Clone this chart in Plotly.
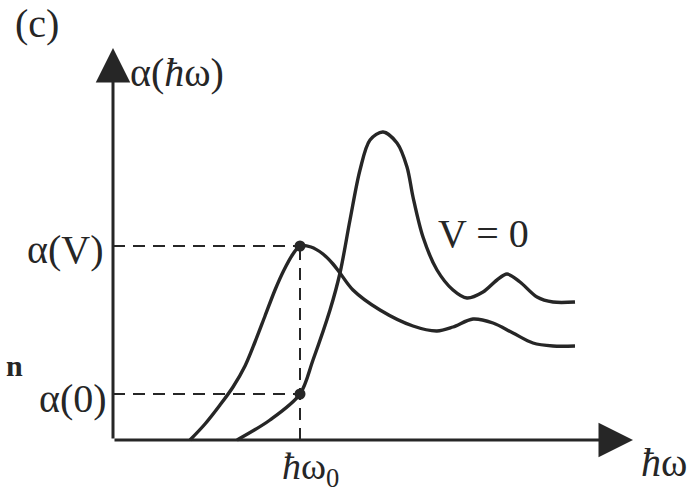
import plotly.graph_objects as go

# Photon energy (arb. units) and absorption (arb. units) for the two field conditions
hw_field = [77, 92, 107, 120, 132, 142, 152, 162, 171, 180, 187, 198, 210, 220, 227,
            240, 267, 300, 324, 340, 360, 380, 400, 420, 440, 462]
alpha_field = [0, 16, 35, 53, 74, 98, 124, 150, 170, 186, 194, 193, 186, 176, 167,
               150, 130, 114, 109, 113, 121, 117, 107, 97, 94, 94]

hw_zero = [124, 157, 187, 200, 217, 227, 237, 247, 257, 270, 284, 294, 300, 310, 324,
           340, 354, 370, 384, 394, 407, 424, 440, 462]
alpha_zero = [0, 20, 46, 80, 130, 167, 220, 270, 300, 308, 297, 273, 243, 203, 170,
              150, 142, 148, 160, 166, 158, 143, 138, 138]

# Probe energy and the two absorption values read there
hw0 = 187
alpha_V = alpha_field[hw_field.index(hw0)]
alpha_0 = alpha_zero[hw_zero.index(hw0)]

# Axis extents
x_axis_end = 520
y_axis_end = 392

ink = "#262626"
serif = "Liberation Serif, Times New Roman, serif"

fig = go.Figure()

# Dashed guides to the axes
for xs, ys in (([0, hw0], [alpha_V, alpha_V]),
               ([0, hw0], [alpha_0, alpha_0]),
               ([hw0, hw0], [0, alpha_V])):
    fig.add_trace(go.Scatter(x=xs, y=ys, mode="lines",
                             line=dict(color=ink, width=2, dash="12px,8px"),
                             hoverinfo="skip"))

# Absorption spectra
fig.add_trace(go.Scatter(x=hw_field, y=alpha_field, mode="lines",
                         line=dict(color=ink, width=3.4, shape="spline", smoothing=0.9)))
fig.add_trace(go.Scatter(x=hw_zero, y=alpha_zero, mode="lines",
                         line=dict(color=ink, width=3.4, shape="spline", smoothing=0.9)))

# Points at the probe energy
fig.add_trace(go.Scatter(x=[hw0, hw0], y=[alpha_V, alpha_0], mode="markers",
                         marker=dict(color=ink, size=11)))

annotations = [
    # axes with arrowheads
    dict(x=0, y=y_axis_end, ax=0, ay=0, xref="x", yref="y", axref="x", ayref="y",
         text="", showarrow=True, arrowhead=2, arrowsize=2.3, arrowwidth=3,
         arrowcolor=ink),
    dict(x=x_axis_end, y=0, ax=0, ay=0, xref="x", yref="y", axref="x", ayref="y",
         text="", showarrow=True, arrowhead=2, arrowsize=2.3, arrowwidth=3,
         arrowcolor=ink),
]

labels = [
    ("(c)", -76, 417, "center", "middle", 40),
    ("α(<i>ħ</i>ω)", 15, 368, "left", "middle", 40),
    ("α(V)", -8, alpha_V - 3, "right", "middle", 40),
    ("α(0)", -4, alpha_0 - 4, "right", "middle", 40),
    ("<b>n</b>", -99, 75, "center", "middle", 30),
    ("<i>ħ</i>ω<sub>0</sub>", hw0 + 10, -29, "center", "middle", 38),
    ("<i>ħ</i>ω", 551, -22, "center", "middle", 40),
    ("V = 0", 370, 207, "center", "middle", 40),
]
for text, x, y, xa, ya, size in labels:
    annotations.append(dict(x=x, y=y, xref="x", yref="y", text=text, showarrow=False,
                            xanchor=xa, yanchor=ya,
                            font=dict(family=serif, size=size, color=ink)))

fig.update_layout(
    width=690, height=499,
    margin=dict(l=0, r=0, t=0, b=0),
    paper_bgcolor="white", plot_bgcolor="white",
    showlegend=False,
    xaxis=dict(range=[-113, 577], visible=False, fixedrange=True),
    yaxis=dict(range=[-59, 440], visible=False, fixedrange=True),
    annotations=annotations,
)

fig.write_html("out.html")
